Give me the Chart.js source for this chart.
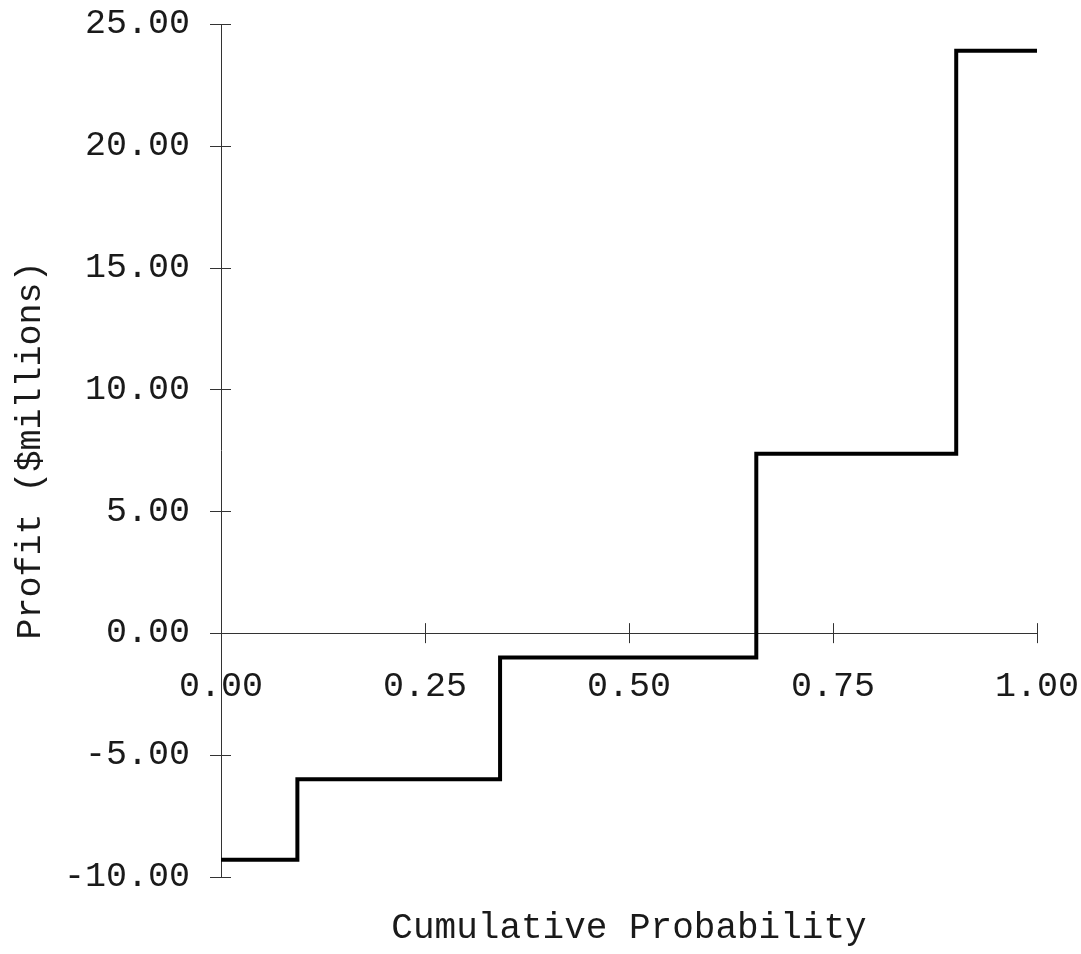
<!DOCTYPE html>
<html>
<head>
<meta charset="utf-8">
<script src="https://cdn.jsdelivr.net/npm/chart.js@4/dist/chart.umd.min.js"></script>
<style>
  body { margin: 0; background: #fff; }
  #wrap { width: 1081px; height: 954px; position: relative; }
</style>
</head>
<body>
<div id="wrap"><canvas id="stepChart"></canvas></div>
<script>
// ---------------- DATA ----------------
const cumProb = [0, 0.0936, 0.342, 0.656, 0.901, 1.0];
const profit = [-9.3, -6.0, -1.0, 7.36, 23.9, 23.9];
const yTicks = [-10, -5, 0, 5, 10, 15, 20, 25];
const xTicks = [0, 0.25, 0.5, 0.75, 1.0];

const FONT = "'Liberation Mono', 'Courier New', monospace";
const AXIS_COLOR = "#333";
const TEXT_COLOR = "#1a1a1a";

// ---------------- CROSS TICKS ----------------
// tick marks that cross the axis line on both sides
const crossTicks = {
    id: "crossTicks",
    beforeDatasetsDraw(chart) {
        const { ctx, chartArea, scales: { x, y } } = chart;
        const ax = chartArea.left;
        const ay = y.getPixelForValue(0);

        ctx.save();
        ctx.strokeStyle = AXIS_COLOR;
        ctx.lineWidth = 1;
        ctx.beginPath();
        y.ticks.forEach((t, i) => {
            const py = Math.round(y.getPixelForTick(i)) + 0.5;
            ctx.moveTo(ax - 11, py);
            ctx.lineTo(ax + 10, py);
        });
        x.ticks.forEach((t, i) => {
            const px = Math.round(x.getPixelForTick(i)) + 0.5;
            ctx.moveTo(px, ay - 10);
            ctx.lineTo(px, ay + 10);
        });
        ctx.stroke();
        ctx.restore();
    }
};

// no extra room for label overhang, layout padding decides the plot box
function noOverhang(scale) {
    scale.paddingTop = 0;
    scale.paddingBottom = 0;
    scale.paddingLeft = 0;
    scale.paddingRight = 0;
}

// ---------------- CHART ----------------
new Chart("stepChart", {
    type: "line",
    data: {
        datasets: [{
            data: cumProb.map((p, i) => ({ x: p, y: profit[i] })),
            borderColor: "#000",
            borderWidth: 4,
            stepped: "before",
            pointRadius: 0,
            fill: false,
            borderJoinStyle: "miter"
        }]
    },
    options: {
        responsive: true,
        maintainAspectRatio: false,
        animation: false,
        layout: { padding: { top: 24, right: 44, bottom: 4, left: 0 } },
        plugins: {
            legend: { display: false },
            tooltip: { enabled: false }
        },
        scales: {
            x: {
                type: "linear",
                position: { y: 0 },
                min: 0,
                max: 1,
                afterBuildTicks: (scale) => {
                    scale.ticks = xTicks.map(v => ({ value: v }));
                },
                afterFit: noOverhang,
                grid: { drawOnChartArea: false, drawTicks: false },
                border: { color: AXIS_COLOR, width: 1 },
                ticks: {
                    padding: 33,
                    maxRotation: 0,
                    color: TEXT_COLOR,
                    font: { family: FONT, size: 35 },
                    callback: v => Number(v).toFixed(2)
                }
            },
            // bottom axis only carries the x title, centred under the plot
            xTitle: {
                type: "linear",
                position: "bottom",
                min: 0,
                max: 1,
                afterFit: noOverhang,
                grid: { display: false, drawTicks: false },
                border: { display: false },
                ticks: { display: false },
                title: {
                    display: true,
                    text: "Cumulative Probability",
                    color: TEXT_COLOR,
                    font: { family: FONT, size: 36 },
                    padding: { top: 30, bottom: 0 }
                }
            },
            y: {
                type: "linear",
                position: "left",
                min: -10,
                max: 25,
                afterBuildTicks: (scale) => {
                    scale.ticks = yTicks.map(v => ({ value: v }));
                },
                afterFit: (scale) => {
                    noOverhang(scale);
                    scale.width = 221;
                },
                grid: { drawOnChartArea: false, drawTicks: false },
                border: { color: AXIS_COLOR, width: 1 },
                title: {
                    display: true,
                    text: "Profit ($millions)",
                    color: TEXT_COLOR,
                    font: { family: FONT, size: 35 },
                    padding: { top: 10, bottom: 0 }
                },
                ticks: {
                    padding: 31,
                    color: TEXT_COLOR,
                    font: { family: FONT, size: 35 },
                    callback: v => Number(v).toFixed(2)
                }
            }
        }
    },
    plugins: [crossTicks]
});
</script>
</body>
</html>
